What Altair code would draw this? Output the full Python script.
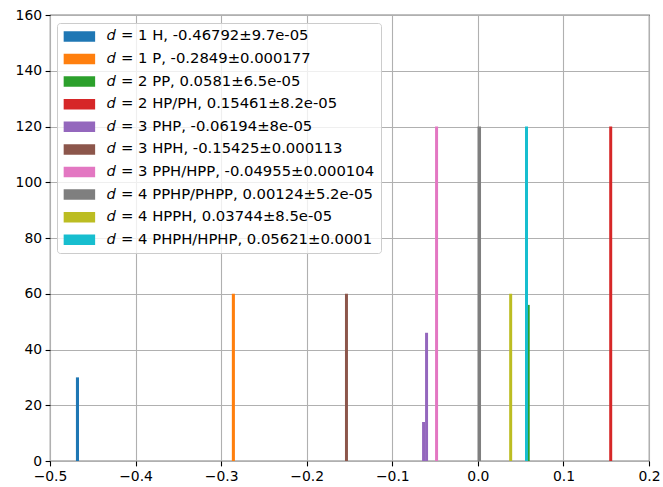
import altair as alt
import pandas as pd

# Series (legend) labels and colours
labels = [
    "𝑑 = 1 H, -0.46792±9.7e-05",
    "𝑑 = 1 P, -0.2849±0.000177",
    "𝑑 = 2 PP, 0.0581±6.5e-05",
    "𝑑 = 2 HP/PH, 0.15461±8.2e-05",
    "𝑑 = 3 PHP, -0.06194±8e-05",
    "𝑑 = 3 HPH, -0.15425±0.000113",
    "𝑑 = 3 PPH/HPP, -0.04955±0.000104",
    "𝑑 = 4 PPHP/PHPP, 0.00124±5.2e-05",
    "𝑑 = 4 HPPH, 0.03744±8.5e-05",
    "𝑑 = 4 PHPH/HPHP, 0.05621±0.0001",
]
colors = ["#1f77b4", "#ff7f0e", "#2ca02c", "#d62728", "#9467bd",
          "#8c564b", "#e377c2", "#7f7f7f", "#bcbd22", "#17becf"]

# Histogram bars: series index, bin left edge, bin right edge, count
bar_series = [0, 1, 2, 3, 4, 4, 5, 6, 7, 8, 9]
bar_left = [-0.4697, -0.2875, 0.0568, 0.1535, -0.0652, -0.0617, -0.1553, -0.0500, -0.0004, 0.0366, 0.0551]
bar_right = [-0.4661, -0.2839, 0.0606, 0.1570, -0.0617, -0.0582, -0.1518, -0.0465, 0.0037, 0.0401, 0.0586]
bar_count = [30, 60, 56, 120, 14, 46, 60, 120, 120, 60, 120]

x_ticks = [-0.5, -0.4, -0.3, -0.2, -0.1, 0.0, 0.1, 0.2]
y_ticks = [0, 20, 40, 60, 80, 100, 120, 140, 160]

df = pd.DataFrame({
    "series": [labels[i] for i in bar_series],
    "order": list(range(len(bar_series))),
    "lo": bar_left,
    "hi": bar_right,
    "count": bar_count,
})

FONT = "DejaVu Sans"

chart = alt.Chart(df).mark_rect(strokeWidth=0).encode(
    x=alt.X("lo:Q",
            scale=alt.Scale(domain=[-0.5, 0.2], nice=False, zero=False),
            axis=alt.Axis(values=x_ticks, format=".1f", title=None,
                          labelExpr="replace(datum.label, '-', '−')")),
    x2="hi:Q",
    y=alt.Y("count:Q", scale=alt.Scale(domain=[0, 160], nice=False),
            axis=alt.Axis(values=y_ticks, title=None)),
    y2=alt.datum(0),
    color=alt.Color("series:N",
                    scale=alt.Scale(domain=labels, range=colors),
                    sort=labels,
                    legend=alt.Legend(
                        title=None,
                        orient="none",
                        legendX=7, legendY=8,
                        symbolType="M-3,-1L3,-1L3,1L-3,1Z",
                        symbolSize=110,
                        symbolOffset=9,
                        symbolStrokeWidth=0,
                        symbolOpacity=1,
                        labelFont=FONT,
                        labelFontSize=14.8,
                        labelColor="#000000",
                        labelOffset=20.5,
                        rowPadding=6.6,
                        padding=6,
                        fillColor="rgba(255,255,255,0.8)",
                        strokeColor="#cccccc",
                        cornerRadius=3,
                        labelLimit=400,
                    )),
    order=alt.Order("order:Q"),
).properties(
    width=599, height=446,
    autosize=alt.AutoSizeParams(type="none"),
    padding={"left": 50, "top": 15, "right": 14, "bottom": 26},
).configure_view(
    stroke="#000000", strokeWidth=1.1
).configure_axis(
    zindex=1,
    grid=True,
    gridColor="#b0b0b0",
    gridWidth=1.1,
    domain=False,
    tickColor="#000000",
    tickSize=4.9,
    tickWidth=1.1,
    labelFont=FONT,
    labelFontSize=13.9,
    labelColor="#000000",
    labelPadding=3.5,
    labelFlush=False,
    labelOverlap=False,
)

chart.save("out.html", embed_options={"renderer": "svg", "actions": False})
